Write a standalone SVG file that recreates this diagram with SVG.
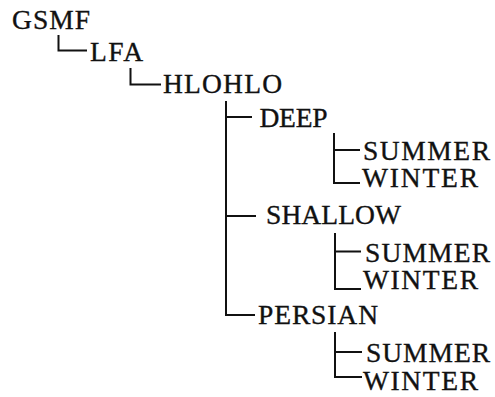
<svg xmlns="http://www.w3.org/2000/svg" width="495" height="397" viewBox="0 0 495 397">
<style>
text{font-family:"Liberation Serif","Times New Roman",serif;font-size:27.5px;fill:#111;stroke:#111;stroke-width:0.35}
.c path{fill:none;stroke:#111;stroke-width:2}
</style>
<rect width="495" height="397" fill="#fff"/>
<g class="c" id="connectors">
<path d="M58.5 35V50.5H87"/>
<path d="M130.5 68V84.5H161"/>
<path d="M226 101V315H255M226 117H252M226 216H256"/>
<path d="M334 133V183H360M334 150H360"/>
<path d="M335 233V289H361M335 251.5H361"/>
<path d="M335 332V377H362M335 352H362"/>
</g>
<g id="n-gsmf"><text x="12" y="28.5" textLength="78" lengthAdjust="spacing">GSMF</text></g>
<g id="n-lfa"><text x="90" y="61" textLength="53" lengthAdjust="spacing">LFA</text></g>
<g id="n-hlohlo"><text x="163" y="93" textLength="119" lengthAdjust="spacing">HLOHLO</text></g>
<g id="n-deep"><text x="259.5" y="126.5" textLength="68" lengthAdjust="spacing">DEEP</text></g>
<g id="n-deep-summer"><text x="363" y="160" textLength="127" lengthAdjust="spacing">SUMMER</text></g>
<g id="n-deep-winter"><text x="362" y="186.5" textLength="116" lengthAdjust="spacing">WINTER</text></g>
<g id="n-shallow"><text x="266" y="224" textLength="135" lengthAdjust="spacing">SHALLOW</text></g>
<g id="n-shallow-summer"><text x="365" y="261.5" textLength="125" lengthAdjust="spacing">SUMMER</text></g>
<g id="n-shallow-winter"><text x="363" y="288.5" textLength="115" lengthAdjust="spacing">WINTER</text></g>
<g id="n-persian"><text x="258" y="323.5" textLength="120" lengthAdjust="spacing">PERSIAN</text></g>
<g id="n-persian-summer"><text x="366" y="361.5" textLength="124" lengthAdjust="spacing">SUMMER</text></g>
<g id="n-persian-winter"><text x="363" y="389.5" textLength="115" lengthAdjust="spacing">WINTER</text></g>
</svg>
